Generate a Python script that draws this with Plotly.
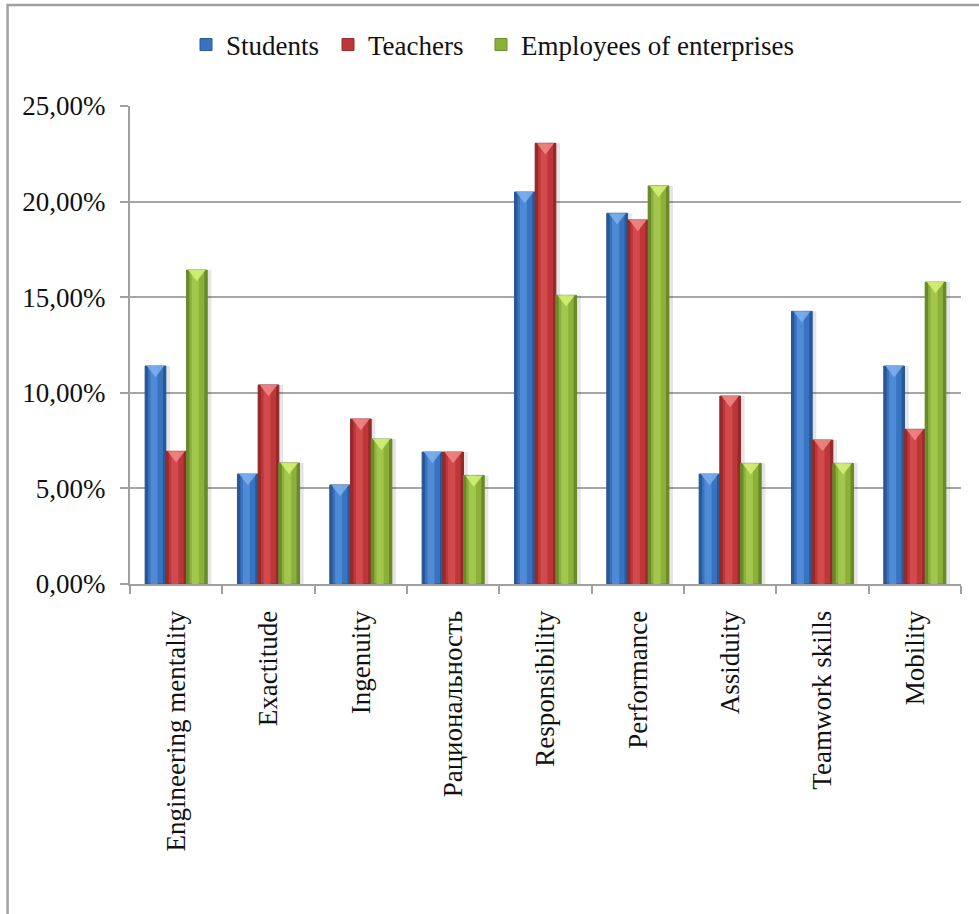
import plotly.graph_objects as go

categories = ["Engineering mentality", "Exactitude", "Ingenuity", "Рациональность",
              "Responsibility", "Performance", "Assiduity", "Teamwork skills", "Mobility"]
students = [0.1140, 0.0575, 0.0518, 0.0690, 0.2050, 0.1939, 0.0575, 0.1426, 0.1140]
teachers = [0.0694, 0.1041, 0.0863, 0.0690, 0.2305, 0.1904, 0.0983, 0.0753, 0.0809]
employees = [0.1642, 0.0633, 0.0758, 0.0568, 0.1510, 0.2082, 0.0631, 0.0631, 0.1579]
series_names = ["Students", "Teachers", "Employees of enterprises"]
y_ticks = [0, 0.05, 0.10, 0.15, 0.20, 0.25]

series = [students, teachers, employees]
# (dark edge, mid, light highlight, bevel)
palettes = [
    ("#2a5894", "#3873c0", "#4f8ad6", "#7fb0ee"),
    ("#952a2c", "#bd3739", "#d24a4b", "#f08a88"),
    ("#6a8a2a", "#8cb13a", "#a2c74c", "#d6f27a"),
]
legend_widths = [97, 108, None]

FONT = "Liberation Serif"
FS = 27
W, H = 979, 914
L, R, T, B = 129.5, 18, 106, 330
ymax = 0.25
px_per_unit = (H - T - B) / ymax

bw = 0.224
n = len(categories)
xs = list(range(n))

fig = go.Figure()

# soft shadows
for k, vals in enumerate(series):
    off = -1.5 * bw + k * bw
    fig.add_trace(go.Bar(x=xs, y=vals, width=bw, offset=off + 0.045,
                         marker=dict(color="rgba(0,0,0,0.10)", line=dict(width=0)),
                         showlegend=False, hoverinfo="skip"))

for k, (vals, name) in enumerate(zip(series, series_names)):
    dark, mid, light, bevel = palettes[k]
    off = -1.5 * bw + k * bw
    bar = dict(x=xs, y=vals, width=bw, offset=off, name=name,
               marker=dict(color=mid, line=dict(color=dark, width=1)),
               legendrank=k)
    if legend_widths[k]:
        bar["legendwidth"] = legend_widths[k]
    fig.add_trace(go.Bar(**bar))
    fig.add_trace(go.Bar(x=xs, y=vals, width=bw * 0.14, offset=off,
                         marker=dict(color=dark, line=dict(width=0)),
                         showlegend=False, hoverinfo="skip"))
    fig.add_trace(go.Bar(x=xs, y=vals, width=bw * 0.14, offset=off + bw * 0.86,
                         marker=dict(color=dark, line=dict(width=0)),
                         showlegend=False, hoverinfo="skip"))
    fig.add_trace(go.Bar(x=xs, y=vals, width=bw * 0.34, offset=off + bw * 0.26,
                         marker=dict(color=light, line=dict(width=0)),
                         showlegend=False, hoverinfo="skip"))
    msize = 15
    fig.add_trace(go.Scatter(x=[i + off + bw / 2 for i in xs],
                             y=[v - (msize / 4) / px_per_unit for v in vals],
                             mode="markers",
                             marker=dict(symbol="triangle-down", size=msize, color=bevel,
                                         opacity=0.85, line=dict(width=0)),
                             showlegend=False, hoverinfo="skip"))

fig.update_layout(
    width=W, height=H,
    margin=dict(l=L, r=R, t=T, b=B, pad=0),
    barmode="overlay",
    separators=", ",
    paper_bgcolor="white", plot_bgcolor="white",
    font=dict(family=FONT, size=FS, color="#111111"),
    legend=dict(orientation="h", xref="container", yref="container",
                x=(205 - 19) / W, xanchor="left", y=1 - 45 / H, yanchor="middle",
                font=dict(family=FONT, size=FS, color="#111111"),
                itemwidth=30, traceorder="normal", bgcolor="rgba(0,0,0,0)"),
    xaxis=dict(range=[-0.5, n - 0.5], tickvals=xs, ticktext=categories,
               tickangle=-90, ticks="", showgrid=False, zeroline=False,
               showline=True, linecolor="#a0a0a0", linewidth=2,
               ticklabelstandoff=14,
               minor=dict(tick0=-0.5, dtick=1, ticks="outside", ticklen=8,
                          tickcolor="#a0a0a0", tickwidth=2, showgrid=False),
               tickfont=dict(family=FONT, size=FS, color="#111111")),
    yaxis=dict(range=[0, ymax], tickvals=y_ticks, tickformat=".2%",
               showgrid=True, gridcolor="#a6a6a6", gridwidth=1.5,
               zeroline=False, showline=True, linecolor="#a0a0a0", linewidth=2,
               ticks="outside", ticklen=8, tickcolor="#a0a0a0", tickwidth=2,
               ticklabelstandoff=9,
               tickfont=dict(family=FONT, size=FS, color="#111111")),
    shapes=[dict(type="path", xref="paper", yref="paper",
                 path="M -0.1473,-0.75 L -0.1473,1.2113 L 1.05,1.2113",
                 line=dict(color="#a0a0a0", width=2.5), layer="above")],
)

fig.write_html("out.html", config={"displayModeBar": False},
               post_script="document.body.style.margin='0';document.body.style.overflow='hidden';")
